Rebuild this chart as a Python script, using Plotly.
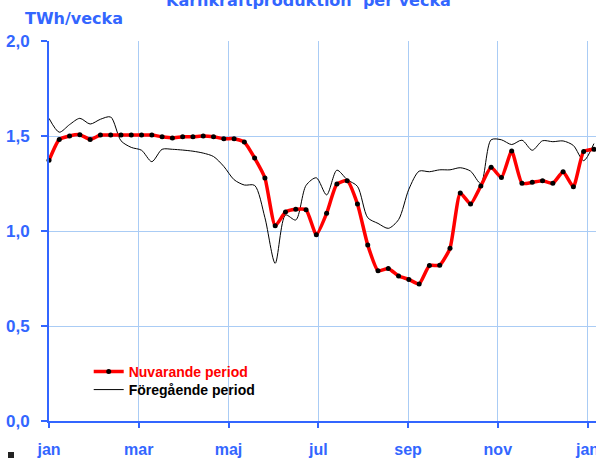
import plotly.graph_objects as go

# Week index 0..53
weeks = list(range(54))

current = [1.372, 1.482, 1.500, 1.507, 1.482, 1.505, 1.505, 1.505, 1.505, 1.505,
           1.505, 1.496, 1.490, 1.496, 1.496, 1.500, 1.496, 1.486, 1.486, 1.468,
           1.384, 1.279, 1.027, 1.100, 1.114, 1.112, 0.980, 1.093, 1.247, 1.265,
           1.142, 0.926, 0.791, 0.803, 0.763, 0.745, 0.721, 0.818, 0.820, 0.909,
           1.200, 1.142, 1.237, 1.335, 1.281, 1.421, 1.251, 1.256, 1.265, 1.251,
           1.312, 1.233, 1.418, 1.430]

previous = [1.593, 1.520, 1.560, 1.593, 1.563, 1.588, 1.600, 1.475, 1.440, 1.425,
            1.365, 1.430, 1.430, 1.426, 1.420, 1.410, 1.392, 1.340, 1.270, 1.242,
            1.240, 1.070, 0.830, 1.084, 1.058, 1.240, 1.280, 1.190, 1.320, 1.270,
            1.235, 1.070, 1.040, 1.014, 1.060, 1.220, 1.315, 1.312, 1.322, 1.322,
            1.333, 1.315, 1.250, 1.480, 1.480, 1.455, 1.478, 1.425, 1.475, 1.470,
            1.474, 1.450, 1.370, 1.460]

month_labels = ["jan", "mar", "maj", "jul", "sep", "nov", "jan"]
month_pos = [0, 8.73, 17.46, 26.19, 34.92, 43.65, 52.38]

BLUE = "#3366FF"
GRID = "#AACCF5"
FONT = "Liberation Sans, Arial, sans-serif"
WIDE = "DejaVu Sans, sans-serif"

fig = go.Figure()
fig.add_trace(go.Scatter(
    x=weeks, y=previous, mode="lines",
    line=dict(color="black", width=1, shape="spline", smoothing=0.8),
    name="<b>Föregående period</b>", cliponaxis=False, legend="legend2"))
fig.add_trace(go.Scatter(
    x=weeks, y=current, mode="lines+markers",
    line=dict(color="#FF0000", width=3.5, shape="spline", smoothing=0.5),
    marker=dict(color="black", size=5),
    name="<b><span style='color:#FF0000'>Nuvarande period</span></b>",
    cliponaxis=False, legend="legend"))

legend_common = dict(xanchor="left", yanchor="middle",
                     font=dict(family=FONT, size=14, color="black"),
                     bgcolor="rgba(0,0,0,0)")

fig.update_layout(
    width=596, height=459,
    margin=dict(l=49, r=0, t=41, b=38, autoexpand=False),
    paper_bgcolor="white", plot_bgcolor="white",
    separators=", ",
    font=dict(family=FONT, color=BLUE),
    showlegend=True,
    legend=dict(x=0.0726, y=0.129, **legend_common),
    legend2=dict(x=0.0726, y=0.0816, **legend_common),
    xaxis=dict(range=[0, 53.2], tickvals=month_pos, ticktext=month_labels,
               showgrid=True, gridcolor=GRID, gridwidth=1,
               showline=True, linecolor=BLUE, linewidth=2,
               ticks="outside", ticklen=5, tickcolor=BLUE, tickwidth=2,
               ticklabelstandoff=8, automargin=False, ticklabeloverflow="allow",
               tickfont=dict(family=FONT, size=16, color=BLUE, weight="bold"),
               zeroline=False, fixedrange=True),
    yaxis=dict(range=[0, 2], dtick=0.5, tick0=0, tickformat=".1f",
               showgrid=True, gridcolor=GRID, gridwidth=1,
               showline=True, linecolor=BLUE, linewidth=2,
               ticks="outside", ticklen=6, tickcolor=BLUE, tickwidth=2,
               ticklabelstandoff=8, automargin=False, ticklabeloverflow="allow",
               tickfont=dict(family=FONT, size=17, color=BLUE, weight="bold"),
               zeroline=False, fixedrange=True),
)

fig.add_annotation(text="<b>Kärnkraftproduktion  per vecka</b>",
                   xref="paper", yref="paper", x=0.475, y=1.0763,
                   xanchor="center", yanchor="bottom", showarrow=False,
                   font=dict(family=WIDE, size=16, color=BLUE))
fig.add_annotation(text="<b>TWh/vecka</b>",
                   xref="paper", yref="paper", x=-0.0475, y=1.058,
                   xanchor="left", yanchor="middle", showarrow=False,
                   font=dict(family=WIDE, size=16, color=BLUE))

# small dark icon at the bottom-left corner of the picture
fig.add_shape(type="rect", xref="paper", yref="paper",
              x0=(8 - 49) / 547, x1=(14 - 49) / 547,
              y0=(421 - 458) / 380, y1=(421 - 452) / 380,
              fillcolor="#222222", line=dict(width=0), layer="above")

fig.write_html("out.html", config={"displayModeBar": False},
               post_script="document.body.style.margin='0';")
